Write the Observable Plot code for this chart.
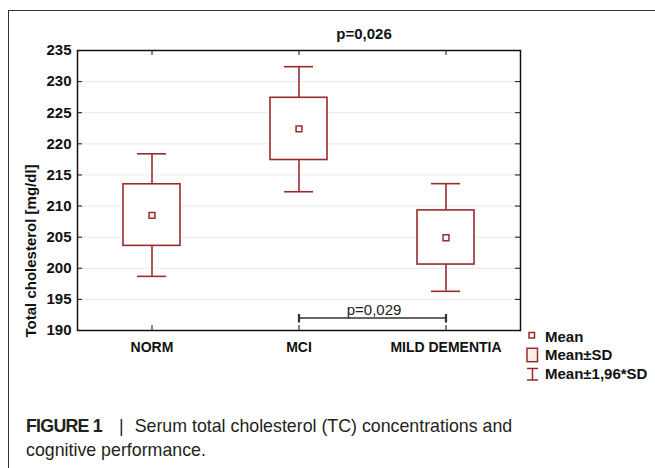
<!DOCTYPE html>
<html>
<head>
<meta charset="utf-8">
<script src="https://cdn.jsdelivr.net/npm/d3@7"></script>
<script src="https://cdn.jsdelivr.net/npm/@observablehq/plot@0.6"></script>
<style>
  html, body { margin: 0; padding: 0; background: #fff; }
  #wrap { position: relative; width: 655px; height: 468px; overflow: hidden; }
  #frame { position: absolute; left: 8px; top: 10px; width: 700px; height: 500px;
           border-top: 1.3px solid #333; border-left: 1.3px solid #333; }
  #chart { position: absolute; left: 0; top: 0; }
  #legend { position: absolute; left: 0; top: 0; }
  #caption { position: absolute; left: 26px; top: 413.5px; width: 620px;
             font-family: "Liberation Sans", Arial, sans-serif;
             font-size: 17.8px; line-height: 24px; color: #231f20; white-space: nowrap; }
  #caption b { font-weight: bold; letter-spacing: -0.75px; }
  #caption .sep { margin: 0 11px 0 17px; }
</style>
</head>
<body>
<div id="wrap">
  <div id="frame"></div>
  <div id="chart"></div>
  <svg id="legend" width="655" height="468"></svg>
  <div id="caption"><b>FIGURE 1</b><span class="sep">|</span>Serum total cholesterol (TC) concentrations and<br>cognitive performance.</div>
</div>
<script>
// ---- data ----
const groups = ["NORM", "MCI", "MILD DEMENTIA"];
const means = [208.5, 222.4, 204.9];
const sdLow = [203.6, 217.4, 200.6];
const sdHigh = [213.5, 227.4, 209.3];
const ciLow = [198.7, 212.3, 196.3];
const ciHigh = [218.4, 232.4, 213.6];
const yTicks = [190, 195, 200, 205, 210, 215, 220, 225, 230, 235];
const gridTicks = [195, 200, 205, 210, 215, 220, 225, 230];
const overallP = "p=0,026";
const pairFrom = "MCI";
const pairTo = "MILD DEMENTIA";
const pairY = 192;
const pairP = "p=0,029";
const yTitle = "Total cholesterol [mg/dl]";
const legendItems = ["Mean", "Mean±SD", "Mean±1,96*SD"];

const rows = groups.map((g, i) => ({group: g, mean: means[i], lo: sdLow[i], hi: sdHigh[i], wlo: ciLow[i], whi: ciHigh[i]}));
const pairs = [{x1: pairFrom, x2: pairTo, y: pairY, label: pairP}];

const red = "#9c2a2c";
const W = 655, H = 390;
const mL = 77, mR = 135, mT = 50, mB = 60;
const fw = W - mL - mR, fh = H - mT - mB;

const chart = Plot.plot({
  width: W, height: H,
  marginLeft: mL, marginRight: mR, marginTop: mT, marginBottom: mB,
  style: {fontFamily: "'Liberation Sans', Arial, sans-serif", fontSize: "15px", fontWeight: "bold", color: "#111", background: "transparent"},
  x: {type: "band", domain: groups, padding: 0},
  y: {domain: [190, 235]},
  marks: [
    Plot.gridY(gridTicks, {stroke: "#e9e9e9", strokeOpacity: 1, strokeWidth: 1}),
    Plot.axisY({ticks: yTicks, tickSize: 0, tickPadding: 6, label: null, fontSize: 15, fill: "#111"}),
    Plot.axisX({tickSize: 0, tickPadding: 12, label: null, fontSize: 14, fill: "#111"}),
    // inward ticks
    Plot.tickY(yTicks, {y: d => d, insetRight: fw - 5, stroke: "#111", strokeWidth: 1}),
    Plot.tickY(yTicks, {y: d => d, insetLeft: fw - 5, stroke: "#111", strokeWidth: 1}),
    Plot.tickX(groups, {x: d => d, insetBottom: fh - 5, stroke: "#111", strokeWidth: 1}),
    Plot.tickX(groups, {x: d => d, insetTop: fh - 5, stroke: "#111", strokeWidth: 1}),
    // whiskers
    Plot.ruleX(rows, {x: "group", y1: "wlo", y2: "whi", stroke: red, strokeWidth: 1.6}),
    Plot.tickY(rows, {x: "group", y: "wlo", insetLeft: 59, insetRight: 59, stroke: red, strokeWidth: 1.6}),
    Plot.tickY(rows, {x: "group", y: "whi", insetLeft: 59, insetRight: 59, stroke: red, strokeWidth: 1.6}),
    // SD boxes
    Plot.barY(rows, {x: "group", y1: "lo", y2: "hi", insetLeft: 45, insetRight: 45, fill: "white", stroke: red, strokeWidth: 1.6}),
    // mean markers
    Plot.dot(rows, {x: "group", y: "mean", symbol: "square", r: 3.3, fill: "white", stroke: red, strokeWidth: 1.5}),
    // pairwise comparison bracket
    Plot.link(pairs, {x1: "x1", x2: "x2", y1: "y", y2: "y", stroke: "#333", strokeWidth: 1.5, markerStart: "tick", markerEnd: "tick"}),
    Plot.text(pairs, {x: "x1", y: "y", text: "label", dx: 75, dy: -3, lineAnchor: "bottom", fontWeight: "normal", fontSize: 15, fill: "#222"}),
    // overall p
    Plot.text([overallP], {text: d => d, frameAnchor: "top", dx: 65, dy: -16, lineAnchor: "middle", fontSize: 15, fill: "#111"}),
    // y title
    Plot.text([yTitle], {text: d => d, frameAnchor: "bottom-left", rotate: -90, textAnchor: "start", lineAnchor: "middle", dx: -46, dy: 7, fontSize: 15, fill: "#111"}),
    Plot.frame({stroke: "#111", strokeWidth: 1.5})
  ]
});
document.getElementById("chart").appendChild(chart);

// ---- legend ----
const lg = d3.select("#legend");
const lx = 527, font = "'Liberation Sans', Arial, sans-serif";
lg.append("rect").attr("x", lx + 2).attr("y", 332.5).attr("width", 5.5).attr("height", 5.5)
  .attr("fill", "white").attr("stroke", red).attr("stroke-width", 1.5);
lg.append("rect").attr("x", lx).attr("y", 348.3).attr("width", 10.5).attr("height", 13.4)
  .attr("fill", "#fcf1e6").attr("stroke", red).attr("stroke-width", 1.5);
const wx = lx + 5.5;
lg.append("path").attr("d", `M${lx},368.5H${lx + 11}M${wx},368.5V380M${lx},380H${lx + 11}`)
  .attr("stroke", red).attr("stroke-width", 1.5).attr("fill", "none");
const ys = [336.7, 354.5, 374];
legendItems.forEach((t, i) => {
  lg.append("text").attr("x", 545).attr("y", ys[i]).attr("dy", "0.35em")
    .attr("font-family", font).attr("font-size", 15).attr("font-weight", "bold").attr("fill", "#111").text(t);
});
</script>
</body>
</html>
